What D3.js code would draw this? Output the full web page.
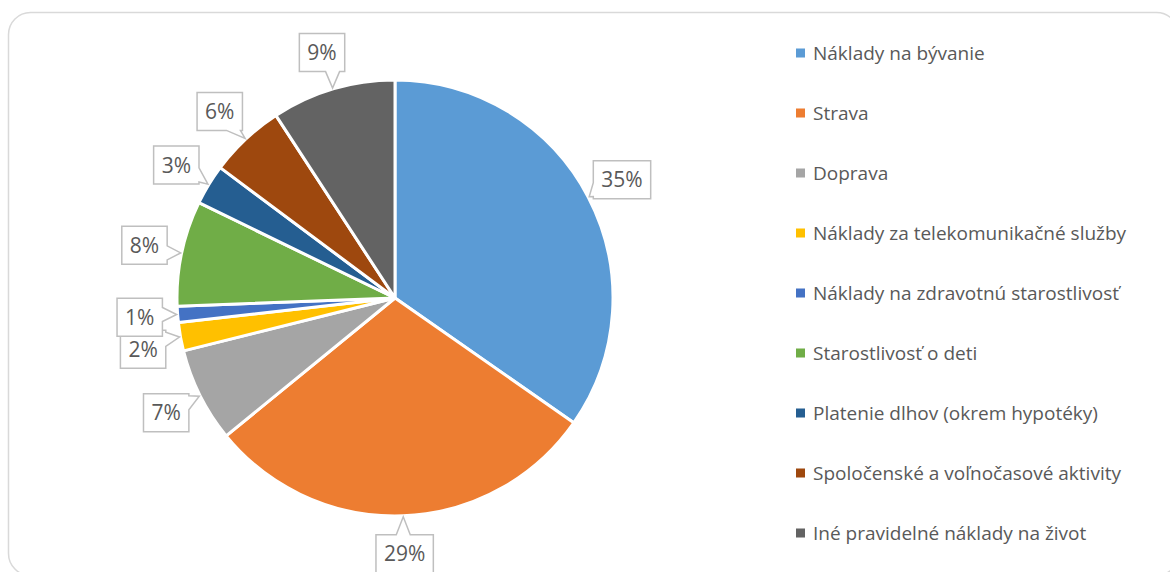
<!DOCTYPE html>
<html>
<head>
<meta charset="utf-8">
<script src="https://cdn.jsdelivr.net/npm/d3@7"></script>
<style>
  html, body { margin: 0; padding: 0; background: #fff; }
  svg { display: block; }
</style>
</head>
<body>
<div id="chart"></div>
<script>
// kategórie a hodnoty (odčítané z grafu, v %)
const categories = [
  "Náklady na bývanie",
  "Strava",
  "Doprava",
  "Náklady za telekomunikačné služby",
  "Náklady na zdravotnú starostlivosť",
  "Starostlivosť o deti",
  "Platenie dlhov (okrem hypotéky)",
  "Spoločenské a voľnočasové aktivity",
  "Iné pravidelné náklady na život"
]
const values = [34.7, 29.4, 7.0, 2.1, 1.2, 7.8, 3.0, 5.6, 9.2]
const colors = ["#5b9bd5", "#ed7d31", "#a5a5a5", "#ffc000", "#4472c4", "#70ad47", "#255e91", "#9e480e", "#636363"]

const width = 1170
const height = 572
const font = "'Open Sans', 'DejaVu Sans', sans-serif"
const textColor = "#595959"

const svg = d3.select('#chart').append('svg')
  .attr('width', width)
  .attr('height', height)

// rámik
svg.append('rect')
  .attr('x', 8.5).attr('y', 12.5)
  .attr('width', 1170).attr('height', 563)
  .attr('rx', 22).attr('ry', 22)
  .attr('fill', '#fff')
  .attr('stroke', '#d9d9d9')
  .attr('stroke-width', 1.5)

/*******  koláč  *******/
const cx = 395, cy = 298, r = 218
const g = svg.append('g').attr('transform', `translate(${cx}, ${cy})`)

const total = d3.sum(values)
const pie = d3.pie().sort(null).value(d => d)
const arcs = pie(values)
const arc = d3.arc().innerRadius(0).outerRadius(r)
const color = d3.scaleOrdinal().domain(categories).range(colors)
const pct = d3.format('.0%')

g.append('g').selectAll('path')
  .data(arcs)
  .enter()
  .append('path')
  .attr('d', arc)
  .attr('fill', (d, i) => color(categories[i]))
  .attr('stroke', '#fff')
  .attr('stroke-width', 3)
  .attr('stroke-linejoin', 'round')

// popisky (callout) – stred boxu na polomere 256 v strede výseku
const labelArc = d3.arc().innerRadius(256).outerRadius(256)
const tipArc = d3.arc().innerRadius(r + 1).outerRadius(r + 1)
const boxH = 38, padX = 8, notch = 14

function calloutPath(x0, y0, w, h, tip) {
  const x1 = x0 + w, y1 = y0 + h
  const bx = x0 + w / 2, by = y0 + h / 2
  const dx = tip[0] - bx, dy = tip[1] - by
  // ktorá strana smeruje k hrotu
  let side
  if (Math.abs(dx) / (w / 2) > Math.abs(dy) / (h / 2)) side = dx > 0 ? 'right' : 'left'
  else side = dy > 0 ? 'bottom' : 'top'
  const clamp = (v, a, b) => Math.max(a, Math.min(b, v))
  const p = d3.path()
  p.moveTo(x0, y0)
  if (side === 'top') {
    const s = clamp(tip[0] - notch / 2, x0 + 2, x1 - notch - 2)
    p.lineTo(s, y0); p.lineTo(tip[0], tip[1]); p.lineTo(s + notch, y0)
  }
  p.lineTo(x1, y0)
  if (side === 'right') {
    const s = clamp(tip[1] - notch / 2, y0 + 2, y1 - notch - 2)
    p.lineTo(x1, s); p.lineTo(tip[0], tip[1]); p.lineTo(x1, s + notch)
  }
  p.lineTo(x1, y1)
  if (side === 'bottom') {
    const s = clamp(tip[0] + notch / 2, x0 + notch + 2, x1 - 2)
    p.lineTo(s, y1); p.lineTo(tip[0], tip[1]); p.lineTo(s - notch, y1)
  }
  p.lineTo(x0, y1)
  if (side === 'left') {
    const s = clamp(tip[1] + notch / 2, y0 + notch + 2, y1 - 2)
    p.lineTo(x0, s); p.lineTo(tip[0], tip[1]); p.lineTo(x0, s - notch)
  }
  p.closePath()
  return p.toString()
}

// pozície popiskov + jednoduché odsunutie prekrývajúcich sa na ľavej strane
const pos = arcs.map(d => labelArc.centroid(d))
for (let i = arcs.length - 2; i >= 0; i--) {
  const [x, y] = pos[i], prev = pos[i + 1]
  if (x < 0 && prev[0] < 0 && y - boxH / 2 < prev[1] + boxH / 2 - 6 && y > prev[1]) {
    pos[i] = [x, prev[1] + boxH - 6]
  }
}

const labels_layer = g.append('g').attr('class', 'layer--labels')
arcs.forEach((d, i) => {
  const [lx, ly] = pos[i]
  const tip = tipArc.centroid(d)
  const el = labels_layer.append('g')
  const box = el.append('path')
  const t = el.append('text')
    .attr('x', lx).attr('y', ly)
    .attr('dy', '0.36em')
    .attr('text-anchor', 'middle')
    .attr('font-family', font)
    .attr('font-size', 21)
    .attr('fill', textColor)
    .text(pct(values[i] / total))
  const w = t.node().getComputedTextLength() + padX * 2
  box.attr('d', calloutPath(lx - w / 2, ly - boxH / 2, w, boxH, tip))
    .attr('fill', '#fff')
    .attr('stroke', '#bfbfbf')
    .attr('stroke-width', 1.5)
})

/*******  legenda  *******/
const ly = d3.scalePoint().domain(categories).range([53, 533])
const legend = svg.append('g').attr('class', 'legend')
  .selectAll('g')
  .data(categories)
  .enter()
  .append('g')
  .attr('transform', d => `translate(796, ${ly(d)})`)

legend.append('rect')
  .attr('x', 0).attr('y', -4.5)
  .attr('width', 9).attr('height', 9)
  .attr('fill', d => color(d))

legend.append('text')
  .attr('x', 17).attr('y', 0)
  .attr('dy', '0.35em')
  .attr('font-family', font)
  .attr('font-size', 19)
  .attr('fill', textColor)
  .text(d => d)
</script>
</body>
</html>
